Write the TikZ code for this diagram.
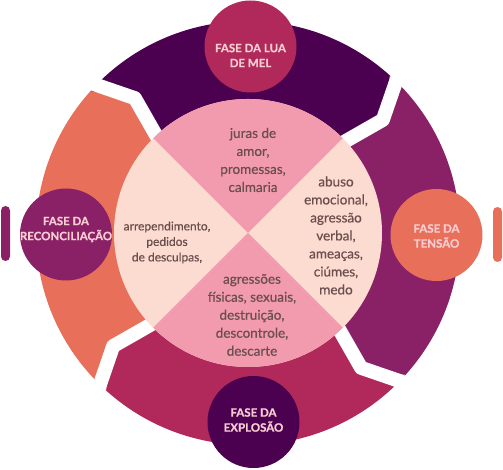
\documentclass[tikz,border=0pt]{standalone}
\usepackage{fontspec}
\setmainfont{Lato}
\newfontfamily\wheelfont[FakeBold=0.6]{Lato}
\newfontfamily\phasefont[FakeBold=0.8]{Lato Bold}
\usepackage{xcolor}
\definecolor{darkplum}{HTML}{4B0150}
\definecolor{plum}{HTML}{8A2066}
\definecolor{berry}{HTML}{B0295A}
\definecolor{coral}{HTML}{E8705A}
\definecolor{rosefill}{HTML}{F29BAE}
\definecolor{peachfill}{HTML}{FCDBD0}
\definecolor{textbrown}{HTML}{6B4E4E}
\definecolor{labelpink}{HTML}{F8CDD2}
\def\ringout{212}
\def\ringin{120}
\def\ringmid{176}
\def\wheelradius{134}
\tikzset{inner text/.style={text=textbrown, align=center, inner sep=0pt,
      font=\wheelfont\fontsize{13.5}{18}\selectfont},
    phase/.style={circle, minimum size=92pt, inner sep=0pt},
    phase text/.style={text=labelpink, align=center, inner sep=0pt,
      font=\phasefont\fontsize{11.5}{15}\selectfont},
    gap/.style={draw=white, line width=14pt, line join=round},
    bar/.style={rounded corners=4.5pt}}

\begin{document}
\begin{tikzpicture}[x=1pt,y=1pt]
    \useasboundingbox (0,0) rectangle (503,470);
    \begin{scope}[shift={(248,237)}]
        % ring pieces, clockwise: tail / head / colour
        \foreach \a/\b/\col in {228/138/coral, 138/48/darkplum, 48/-42/plum, -42/-132/berry}
            \fill[\col] (\a:\ringout) arc[start angle=\a, end angle=\b, radius=\ringout]
              -- (\b-8:\ringmid) -- (\b:\ringin)
              arc[start angle=\b, end angle=\a, radius=\ringin]
              -- (\a-8:\ringmid) -- cycle;
        \foreach \a in {228,138,48,-42}
            \draw[gap] (\a:232) -- (\a-8:\ringmid) -- (\a:100);
        % the wheel
        \fill[peachfill] (0,0) circle[radius=\wheelradius];
        \fill[rosefill] (0,0) -- (45:\wheelradius)
          arc[start angle=45, end angle=135, radius=\wheelradius] -- cycle;
        \fill[rosefill] (0,0) -- (225:\wheelradius)
          arc[start angle=225, end angle=315, radius=\wheelradius] -- cycle;
    \end{scope}
    \node[inner text] (promises) at (253,310) {juras de\\amor,\\promessas,\\calmaria};
    \node[inner text] (abuse) at (336,234.5)
      {abuso\\emocional,\\agressão\\verbal,\\ameaças,\\ciúmes,\\medo};
    \node[inner text] (violence) at (252,155)
      {agressões\\físicas, sexuais,\\destruição,\\descontrole,\\descarte};
    \node[inner text, font=\wheelfont\fontsize{12}{15.5}\selectfont] (apology) at (167,227.5)
      {arrependimento,\\pedidos\\de desculpas,};
    % phases
    \node[phase, fill=berry] (lua) at (250.5,423.5) {};
    \node[phase text] (lua label) at ([yshift=-9pt]lua.center) {FASE DA LUA\\DE MEL};
    \node[phase, fill=coral] (tensao) at (436.5,235) {};
    \node[phase text] (tensao label) at ([yshift=-1pt]tensao.center) {FASE DA\\TENSÃO};
    \node[phase, fill=darkplum] (explosao) at (253.5,48) {};
    \node[phase text] (explosao label) at ([yshift=2pt]explosao.center) {FASE DA\\EXPLOSÃO};
    \node[phase, fill=plum] (reconciliacao) at (66,235.5) {};
    \node[phase text] (reconciliacao label) at ([yshift=5pt]reconciliacao.center)
      {FASE DA\\RECONCILIAÇÃO};
    \fill[plum, bar] (1,209) rectangle (10,264);
    \fill[coral, bar] (493,208) rectangle (502,263);
\end{tikzpicture}
\end{document}
